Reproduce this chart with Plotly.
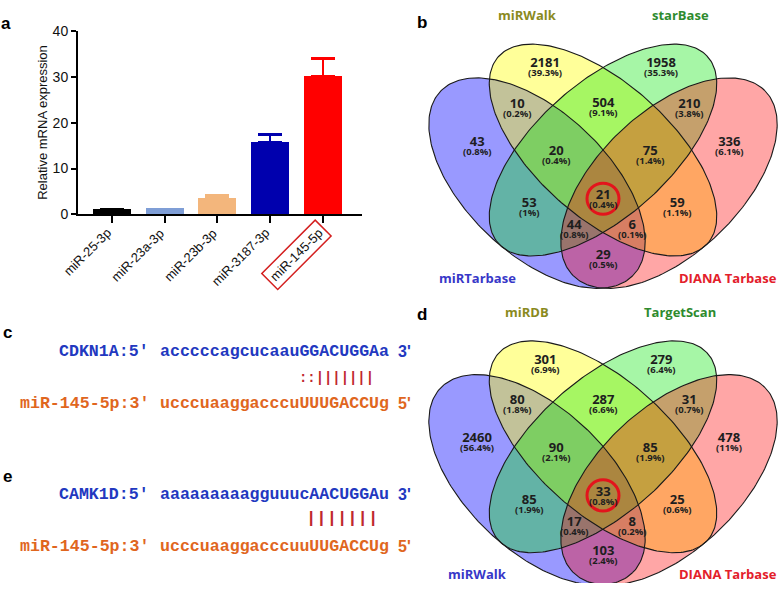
import numpy as np
import plotly.graph_objects as go

W, H = 778, 591

# ---------------- data ----------------
categories = ["miR-25-3p", "miR-23a-3p", "miR-23b-3p", "miR-3187-3p", "miR-145-5p"]
expression = [1.0, 1.2, 3.4, 15.8, 30.2]
expression_err = [0.1, 0.0, 0.7, 1.6, 3.9]
highlight = "miR-145-5p"
y_ticks = [0, 10, 20, 30, 40]

venn_regions = ["A", "B", "C", "D", "AB", "BC", "CD", "ABC", "BCD", "ABCD", "AC", "BD", "ACD", "ABD", "AD"]

venn_b_sets = ["miRTarbase", "miRWalk", "starBase", "DIANA Tarbase"]
venn_b_counts = [43, 2181, 1958, 336, 10, 504, 210, 20, 75, 21, 53, 59, 44, 6, 29]
venn_b_pct = ["0.8%", "39.3%", "35.3%", "6.1%", "0.2%", "9.1%", "3.8%", "0.4%", "1.4%",
              "0.4%", "1%", "1.1%", "0.8%", "0.1%", "0.5%"]

venn_d_sets = ["miRWalk", "miRDB", "TargetScan", "DIANA Tarbase"]
venn_d_counts = [2460, 301, 279, 478, 80, 287, 31, 90, 85, 33, 85, 25, 17, 8, 103]
venn_d_pct = ["56.4%", "6.9%", "6.4%", "11%", "1.8%", "6.6%", "0.7%", "2.1%", "1.9%",
              "0.8%", "1.9%", "0.6%", "0.4%", "0.2%", "2.4%"]
highlight_region = "ABCD"

seq_c = [("CDKN1A:5'", "acccccagcucaauGGACUGGAa", "3'"),
         ("miR-145-5p:3'", "ucccuaaggacccuUUUGACCUg", "5'")]
pair_c = "::|||||||"
seq_e = [("CAMK1D:5'", "aaaaaaaaagguuucAACUGGAu", "3'"),
         ("miR-145-5p:3'", "ucccuaaggacccuuUUGACCUg", "5'")]
pair_e = "|||||||"

# ---------------- styles / layout ----------------
bar_colors = ["#000000", "#7F9ED6", "#F3B67C", "#0000AE", "#FF0000"]
set_colors = ["#3737C8", "#8A8A1E", "#2E8B2E", "#E3202A"]
fill_colors = ["rgba(0,0,255,0.40)", "rgba(255,255,0,0.40)",
               "rgba(0,230,0,0.35)", "rgba(255,0,0,0.35)"]
# ellipse geometry (pixel-like units of the venn axes): cx, cy, a, b, angle
ellipses = [(537, 180, 135, 72, 45), (603, 146, 142, 68, 43),
            (603, 146, 142, 68, -43), (669, 180, 135, 72, -45)]
region_pos = {"A": (477, 136), "B": (545, 55), "C": (661, 55), "D": (729, 136),
              "AB": (517, 97), "BC": (603, 96), "CD": (689, 97),
              "ABC": (556, 146), "BCD": (650, 146), "ABCD": (603, 191),
              "AC": (529, 199), "BD": (677, 199), "ACD": (574, 222),
              "ABD": (632, 222), "AD": (603, 252)}
set_label_pos = [(477, 277), (527, 7), (680, 7), (728, 277)]

VFONT = "Open Sans"
AFONT = "Liberation Sans"
MFONT = "Liberation Mono"


def px(x):
    return x / W


def py(y):
    return 1 - y / H


fig = go.Figure()

# ---------------- panel a: bar chart ----------------
for i, (cat, val, err, col) in enumerate(zip(categories, expression, expression_err, bar_colors)):
    fig.add_trace(go.Bar(
        x=[i], y=[val], width=0.72, marker=dict(color=col, line=dict(width=0)),
        error_y=dict(type="data", array=[err], arrayminus=[0], symmetric=False,
                     color=col, thickness=2.5, width=12, visible=err > 0),
        xaxis="x", yaxis="y", showlegend=False, hoverinfo="skip"))

annotations = []
for i, cat in enumerate(categories):
    annotations.append(dict(
        x=i, y=0, xref="x", yref="y", text=cat, textangle=-45,
        xanchor="right", yanchor="top", xshift=9, yshift=-5, showarrow=False,
        font=dict(family=AFONT, size=13, color="#111111"),
        bordercolor="#D42020" if cat == highlight else "rgba(0,0,0,0)",
        borderwidth=1.5, borderpad=3))

annotations.append(dict(x=px(43), y=py(118), xref="paper", yref="paper",
                        xanchor="center", yanchor="middle",
                        text="Relative mRNA expression", textangle=-90, showarrow=False,
                        font=dict(family=AFONT, size=13, color="#111111")))


# ---------------- panels b, d: venn diagrams ----------------
def ellipse_xy(cx, cy, a, b, th, n=240):
    t = np.linspace(0, 2 * np.pi, n)
    r = np.deg2rad(th)
    x = cx + a * np.cos(t) * np.cos(r) - b * np.sin(t) * np.sin(r)
    y = cy + a * np.cos(t) * np.sin(r) + b * np.sin(t) * np.cos(r)
    return x, y


def add_venn(xa, ya, sets, counts, pcts):
    for (cx, cy, a, b, th), fc in zip(ellipses, fill_colors):
        xs, ys = ellipse_xy(cx, cy, a, b, th)
        fig.add_trace(go.Scatter(x=xs, y=ys, mode="lines", fill="toself", fillcolor=fc,
                                 line=dict(width=0, color="rgba(0,0,0,0)"),
                                 xaxis=xa, yaxis=ya, showlegend=False, hoverinfo="skip"))
    for (cx, cy, a, b, th) in ellipses:
        xs, ys = ellipse_xy(cx, cy, a, b, th)
        fig.add_trace(go.Scatter(x=xs, y=ys, mode="lines", line=dict(width=1.1, color="#1a1a1a"),
                                 xaxis=xa, yaxis=ya, showlegend=False, hoverinfo="skip"))
    for reg, c, p in zip(venn_regions, counts, pcts):
        x, y = region_pos[reg]
        txt = ("<span style='font-size:13px'>" + str(c) + "</span><br>"
               "<span style='font-size:9.5px'>(" + p + ")</span>")
        annotations.append(dict(x=x, y=y + 4.5, xref=xa, yref=ya, text=txt, showarrow=False,
                                xanchor="center", yanchor="middle", align="center",
                                font=dict(family=VFONT, size=6.6, color="#1e1e1e", weight="bold")))
    for name, (x, y), col in zip(sets, set_label_pos, set_colors):
        annotations.append(dict(x=x, y=y, xref=xa, yref=ya, text=name, showarrow=False,
                                xanchor="center", yanchor="middle",
                                font=dict(family=VFONT, size=13, color=col, weight="bold")))
    cx, cy = region_pos[highlight_region]
    return dict(type="circle", xref=xa, yref=ya, x0=cx - 16, x1=cx + 16, y0=cy + 5 - 16, y1=cy + 5 + 16,
                line=dict(color="#E3141C", width=3))


shapes = []
shapes.append(add_venn("x2", "y2", venn_b_sets, venn_b_counts, venn_b_pct))
shapes.append(add_venn("x3", "y3", venn_d_sets, venn_d_counts, venn_d_pct))

# ---------------- panels c, e: sequence alignments ----------------
BLUE_T = "#2238C0"
ORANGE_T = "#E0661E"
PAIR_T = "#C0282E"


def add_alignment(seqs, pair, y_top, y_pair, y_bot, pair_x, pair_size):
    for (lab, s, end), y, col in zip(seqs, (y_top, y_bot), (BLUE_T, ORANGE_T)):
        common = dict(y=py(y), xref="paper", yref="paper", showarrow=False, borderpad=0,
                      yanchor="middle")
        annotations.append(dict(x=px(150), text=lab, xanchor="right",
                                font=dict(family=MFONT, size=16.6, color=col, weight="bold"), **common))
        annotations.append(dict(x=px(159), text=s, xanchor="left",
                                font=dict(family=MFONT, size=16.6, color=col, weight="bold"), **common))
        annotations.append(dict(x=px(397), text=end, xanchor="left",
                                font=dict(family=AFONT, size=16, color=col, weight="bold"), **common))
    annotations.append(dict(x=px(pair_x), y=py(y_pair), xref="paper", yref="paper", text=pair,
                            xanchor="left", yanchor="middle", showarrow=False, borderpad=0,
                            font=dict(family=MFONT, size=pair_size, color=PAIR_T, weight="bold")))


add_alignment(seq_c, pair_c, 353, 380, 407, 298, 13.9)
add_alignment(seq_e, pair_e, 500, 525, 553, 305, 17.2)

# ---------------- panel letters ----------------
for letter, (x, y) in zip("abcde", [(6, 16), (422, 15), (7, 334), (422, 315), (7, 482)]):
    annotations.append(dict(x=px(x), y=py(y), xref="paper", yref="paper", text=letter,
                            xanchor="center", yanchor="middle",
                            showarrow=False, font=dict(family=AFONT, size=17, color="black", weight="bold")))

fig.update_layout(
    width=W, height=H, margin=dict(l=0, r=0, t=0, b=0),
    paper_bgcolor="white", plot_bgcolor="rgba(0,0,0,0)",
    bargap=0, showlegend=False,
    annotations=annotations, shapes=shapes,
    xaxis=dict(domain=[px(78), px(362)], range=[-0.64, 4.74], showgrid=False, zeroline=False,
               showline=True, linecolor="black", linewidth=2, ticks="outside", ticklen=7,
               tickwidth=2, tickcolor="black", tickvals=list(range(len(categories))),
               showticklabels=False, fixedrange=True),
    yaxis=dict(domain=[py(212), py(24)], range=[0, 40], showgrid=False, zeroline=False,
               showline=True, linecolor="black", linewidth=2, ticks="outside", ticklen=5,
               tickwidth=2, tickcolor="black", tickvals=y_ticks,
               tickfont=dict(family=AFONT, size=14, color="#111111"), fixedrange=True),
    xaxis2=dict(domain=[px(420), 1], range=[420, 778], visible=False, anchor="y2", fixedrange=True),
    yaxis2=dict(domain=[py(300), 1], range=[300, 0], visible=False, anchor="x2", fixedrange=True),
    xaxis3=dict(domain=[px(420), 1], range=[420, 778], visible=False, anchor="y3", fixedrange=True),
    yaxis3=dict(domain=[0, py(300)], range=[286, -5], visible=False, anchor="x3", fixedrange=True),
)

fig.write_html("out.html", config={"displayModeBar": False},
               post_script="document.body.style.margin='0px';document.body.style.padding='0px';")
